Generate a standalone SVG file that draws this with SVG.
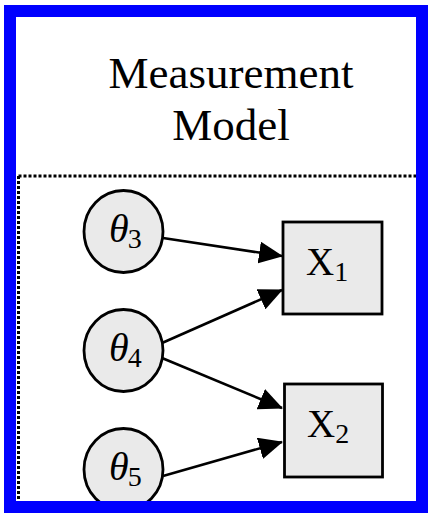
<svg xmlns="http://www.w3.org/2000/svg" width="433" height="513" viewBox="0 0 433 513">
<style>
.node{fill:#eaeaea;stroke:#000;stroke-width:2.8}
.lbl{font-family:"Liberation Serif","Times New Roman",serif;fill:#000}
.th{font-style:italic;font-size:40px}
.sub{font-size:28px;font-style:normal}
.big{font-size:39px}
.title{font-family:"Liberation Serif","Times New Roman",serif;font-size:45px;fill:#000;text-anchor:middle}
.edge{stroke:#000;stroke-width:2.6;fill:none;marker-end:url(#ah)}
.dot{stroke:#000;stroke-width:3;stroke-dasharray:3 2;fill:none}
</style>
<defs>
<marker id="ah" viewBox="0 0 24 22" refX="23" refY="11" markerWidth="24" markerHeight="22" markerUnits="userSpaceOnUse" orient="auto">
<path d="M0,0 L24,11 L0,22 Z" fill="#000"/>
</marker>
</defs>
<rect x="0" y="0" width="433" height="513" fill="#fff"/>
<g id="title">
<text class="title" x="231" y="88">Measurement</text>
<text class="title" x="231" y="140">Model</text>
</g>
<g id="frame-dotted">
<path class="dot" d="M18.5,176 H416 M18.5,176 V501"/>
</g>
<g id="connectors">
<line class="edge" x1="163" y1="238" x2="282" y2="256"/>
<line class="edge" x1="162" y1="343" x2="282" y2="290"/>
<line class="edge" x1="162" y1="358" x2="282" y2="408"/>
<line class="edge" x1="163" y1="476" x2="282" y2="442"/>
</g>
<g id="theta3">
<ellipse class="node" cx="123.5" cy="231.5" rx="39.5" ry="41"/>
<text class="lbl th" x="109" y="242">θ<tspan class="sub" dx="-1" dy="6">3</tspan></text>
</g>
<g id="theta4">
<ellipse class="node" cx="123.5" cy="350.5" rx="39.5" ry="41"/>
<text class="lbl th" x="109" y="361">θ<tspan class="sub" dx="-1" dy="6">4</tspan></text>
</g>
<g id="theta5">
<ellipse class="node" cx="123.5" cy="469.5" rx="39.5" ry="41"/>
<text class="lbl th" x="109" y="480">θ<tspan class="sub" dx="-1" dy="6">5</tspan></text>
</g>
<g id="X1">
<rect class="node" x="283" y="222" width="99" height="92"/>
<text class="lbl big" x="306" y="275">X<tspan class="sub" dy="6">1</tspan></text>
</g>
<g id="X2">
<rect class="node" x="284.5" y="384" width="98" height="93"/>
<text class="lbl big" x="307" y="437">X<tspan class="sub" dy="6">2</tspan></text>
</g>
<g id="border">
<rect x="10" y="11" width="412" height="496" fill="none" stroke="#0000ff" stroke-width="12"/>
</g>
</svg>
